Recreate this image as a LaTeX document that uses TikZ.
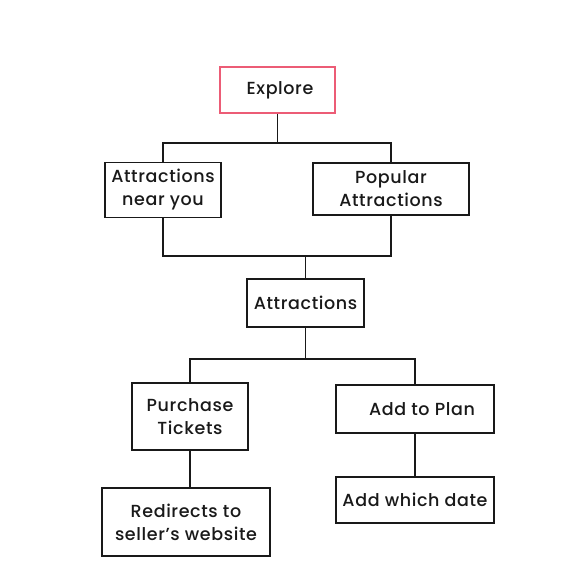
\documentclass[tikz,border=0pt]{standalone}
\usepackage{fontspec}
\setmainfont{Poppins Medium}[LetterSpace=3.5]
\definecolor{linegray}{RGB}{25,25,25}
\definecolor{explorepink}{RGB}{236,92,118}
\tikzset{
  item/.style={draw=linegray, line width=1.5pt, align=center, inner sep=0pt,
    font=\fontsize{17.5}{23}\selectfont, text=linegray},
  link/.style={draw=linegray, line width=1.8pt},
}
\begin{document}
\begin{tikzpicture}[x=1pt,y=-1pt]
  \useasboundingbox (0,0) rectangle (570,570);
  % top level
  \node[item, draw=explorepink, minimum width=115pt, minimum height=46pt] (explore) at (277.5,90) {\hspace{5pt}Explore};
  \node[item, minimum width=116pt, minimum height=55pt] (near) at (163,190) {Attractions\\near you};
  \node[item, minimum width=156pt, minimum height=52pt] (popular) at (391,189) {Popular\\Attractions};
  \node[item, minimum width=117pt, minimum height=48pt] (attr) at (305.5,303) {Attractions};
  % bottom level
  \node[item, minimum width=116pt, minimum height=67pt] (purchase) at (190,416.5) {Purchase\\Tickets};
  \node[item, minimum width=158pt, minimum height=48pt] (plan) at (415,409) {\hspace{14pt}Add to Plan};
  \node[item, minimum width=168pt, minimum height=68pt] (redirect) at (186,522) {Redirects to\\seller’s website};
  \node[item, minimum width=158pt, minimum height=46pt] (date) at (415,500) {Add which date};
  % buses
  \coordinate (busA) at (0,143);
  \coordinate (busB) at (0,256);
  \coordinate (busC) at (0,359);
  \draw[link] (explore.south) -- (explore.south |- busA);
  \draw[link] (near.north) -- (near.north |- busA) -- (popular.north |- busA) -- (popular.north);
  \draw[link] (near.south) -- (near.south |- busB) -- (popular.south |- busB) -- (popular.south);
  \draw[link] (attr.north |- busB) -- (attr.north);
  \draw[link] (attr.south) -- (attr.south |- busC);
  \draw[link] (purchase.north) -- (purchase.north |- busC) -- (plan.north |- busC) -- (plan.north);
  \draw[link] (purchase.south) -- (redirect.north -| purchase.south);
  \draw[link] (plan.south) -- (date.north);
\end{tikzpicture}
\end{document}
